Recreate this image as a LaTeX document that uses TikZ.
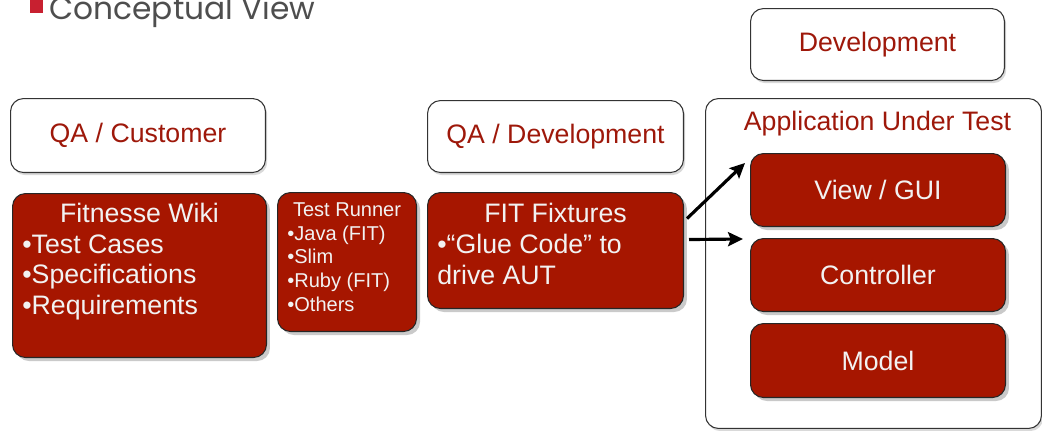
\documentclass[tikz,border=0pt]{standalone}
\usepackage{fontspec}
\setmainfont{Liberation Sans}
\newfontfamily\headfont{Poppins}
\usetikzlibrary{positioning,arrows.meta,shadows}

\definecolor{boxred}{RGB}{166,22,0}
\definecolor{labelred}{RGB}{158,24,10}
\definecolor{boxtextc}{RGB}{242,242,242}
\definecolor{headgray}{RGB}{78,78,78}
\definecolor{headred}{RGB}{200,32,48}

\newcommand{\bigtext}{\fontsize{15.2}{17.6}\selectfont}
\newcommand{\smalltext}{\fontsize{11.4}{13.4}\selectfont}

\tikzset{
  whitebox/.style={draw=black!80, line width=0.6pt, fill=white, rounded corners=0.26cm,
    inner sep=0pt, anchor=north west, text=labelred, font=\bigtext,
    drop shadow={shadow xshift=1pt, shadow yshift=-1.5pt, opacity=0.25, fill=black!60}},
  redbox/.style={draw=black!85, line width=0.6pt, fill=boxred, rounded corners=0.26cm,
    inner sep=0pt, anchor=north west, text=boxtextc, font=\bigtext,
    drop shadow={shadow xshift=2pt, shadow yshift=-2pt, opacity=0.35, fill=black!60}},
  redtext/.style={inner sep=0pt, text=boxtextc, font=\bigtext, align=left},
  conn/.style={-{Stealth[length=8.5pt, width=8pt, inset=1.5pt]}, line width=1.8pt, black},
}

\begin{document}
\begin{tikzpicture}[x=0.02cm,y=-0.02cm]

\useasboundingbox (0,0) rectangle (1042,430);
\clip (0,0) rectangle (1042,430);

% heading, cut at the top
\fill[headred] (30,-5) rectangle (43,13);
\node[anchor=base west, inner sep=0pt, text=headgray, font=\headfont\fontsize{17.8}{20}\selectfont] (heading) at (49,19) {Conceptual View};

% who owns what
\node[whitebox, minimum width=5.10cm, minimum height=1.48cm] (qacust) at (10,98)  {QA / Customer};
\node[whitebox, minimum width=5.12cm, minimum height=1.44cm] (qadev)  at (427,100) {QA / Development};
\node[whitebox, minimum width=5.08cm, minimum height=1.44cm] (dev)    at (750,8)  {Development};
\node[whitebox, minimum width=6.72cm, minimum height=6.60cm] (aut)    at (705,98) {};
\node[anchor=base, inner sep=0pt, text=labelred, font=\bigtext] (autlabel) at ([shift={(4,32)}]aut.north) {Application Under Test};

% wiki
\node[redbox, minimum width=5.08cm, minimum height=3.28cm] (wiki) at (12,193) {};
\node[redtext, anchor=base] (wikititle) at ([shift={(0,29)}]wiki.north) {Fitnesse Wiki};
\node[redtext, anchor=north west] (wikilist) at ([shift={(10,41)}]wiki.north west)
  {•Test Cases\\•Specifications\\•Requirements};

% runner
\node[redbox, minimum width=2.78cm, minimum height=2.78cm] (runner) at (277,192) {};
\node[redtext, anchor=base, font=\smalltext] (runnertitle) at ([shift={(0,24)}]runner.north) {Test Runner};
\node[redtext, anchor=north west, font=\smalltext] (runnerlist) at ([shift={(10,33.5)}]runner.north west)
  {•Java (FIT)\\•Slim\\•Ruby (FIT)\\•Others};

% fixtures
\node[redbox, minimum width=5.12cm, minimum height=2.32cm] (fixtures) at (427,192) {};
\node[redtext, anchor=base] (fixtitle) at ([shift={(0,30)}]fixtures.north) {FIT Fixtures};
\node[redtext, anchor=north west] (fixlist) at ([shift={(10,42)}]fixtures.north west)
  {•“Glue Code” to\\drive AUT};

% application layers
\node[redbox, minimum width=5.10cm, minimum height=1.46cm] (view)  at (750,153) {View / GUI};
\node[redbox, minimum width=5.10cm, minimum height=1.46cm] (ctrl)  at (750,238) {Controller};
\node[redbox, minimum width=5.10cm, minimum height=1.48cm] (model) at (750,323) {Model};

\draw[conn] ([shift={(3,-32)}]fixtures.east) -- ([shift={(-5,10)}]view.north west);
\draw[conn] ([shift={(5,-11)}]fixtures.east) -- ([shift={(-7,1)}]ctrl.north west);

\end{tikzpicture}
\end{document}
